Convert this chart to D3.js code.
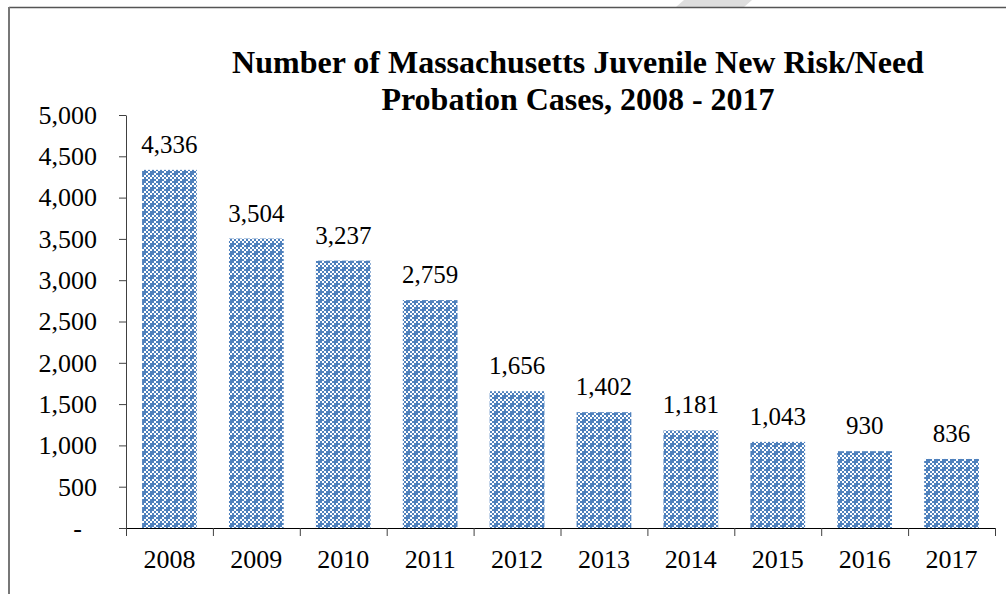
<!DOCTYPE html>
<html>
<head>
<meta charset="utf-8">
<script src="https://cdn.jsdelivr.net/npm/d3@7"></script>
<style>
  html, body { margin: 0; padding: 0; background: #fff; }
  svg { display: block; }
  text { font-family: "Liberation Serif", "Times New Roman", serif; fill: #000; }
</style>
</head>
<body>
<svg id="chart"></svg>
<script>
// data
var years = ["2008", "2009", "2010", "2011", "2012", "2013", "2014", "2015", "2016", "2017"];
var cases = [4336, 3504, 3237, 2759, 1656, 1402, 1181, 1043, 930, 836];
var yTicks = [0, 500, 1000, 1500, 2000, 2500, 3000, 3500, 4000, 4500, 5000];
var titleLines = ["Number of Massachusetts Juvenile New Risk/Need", "Probation Cases, 2008 - 2017"];

var width = 1006, height = 594;
var margin = {top: 115, right: 11, bottom: 66, left: 126};
var plot_w = width - margin.left - margin.right,
    plot_h = height - margin.top - margin.bottom;

var svg = d3.select("#chart")
    .attr("width", width)
    .attr("height", height);

// pattern fill like the excel dotted checker
var defs = svg.append("defs");
var pat = defs.append("pattern")
    .attr("id", "checker")
    .attr("patternUnits", "userSpaceOnUse")
    .attr("width", 8)
    .attr("height", 8);
pat.append("rect").attr("width", 8).attr("height", 8).attr("fill", "#fff");
[[0, 0], [4, 0], [2, 2], [6, 2], [0, 4], [4, 4], [2, 6], [6, 6]].forEach(function (p) {
    pat.append("rect").attr("x", p[0]).attr("y", p[1]).attr("width", 2).attr("height", 2).attr("fill", "#4f81bd");
});
// little crosses
pat.append("rect").attr("x", 2).attr("y", 0).attr("width", 2).attr("height", 2).attr("fill", "#4f81bd");
pat.append("rect").attr("x", 0).attr("y", 2).attr("width", 2).attr("height", 2).attr("fill", "#4f81bd");

// page frame + decoration
svg.append("polygon")
    .attr("points", "676,7 684,0 752,0 744,7")
    .attr("fill", "#dedede");
svg.append("line")
    .attr("x1", 9).attr("x2", width).attr("y1", 7.5).attr("y2", 7.5)
    .attr("stroke", "#555").attr("stroke-width", 1.5);
svg.append("line")
    .attr("x1", 9).attr("x2", 9).attr("y1", 7).attr("y2", height)
    .attr("stroke", "#777").attr("stroke-width", 2);

// title
svg.append("g").selectAll("text")
    .data(titleLines)
    .enter().append("text")
    .attr("x", 578)
    .attr("y", function (d, i) { return 73 + i * 37; })
    .attr("text-anchor", "middle")
    .style("font-size", "32px")
    .style("font-weight", "bold")
    .text(function (d) { return d; });

var g = svg.append("g")
    .attr("transform", "translate(" + margin.left + "," + margin.top + ")");

var x = d3.scaleBand().domain(years).range([0, plot_w]).paddingInner(0.37).paddingOuter(0.185);
var xEdge = d3.scaleLinear().domain([0, years.length]).range([0, plot_w]);
var y = d3.scaleLinear().domain([0, 5000]).range([plot_h, 0]);

var fmt = d3.format(",");

// bars
g.selectAll(".bar")
    .data(cases)
    .enter().append("rect")
    .attr("class", "bar")
    .attr("x", function (d, i) { return x(years[i]); })
    .attr("width", x.bandwidth())
    .attr("y", function (d) { return y(d); })
    .attr("height", function (d) { return plot_h - y(d); })
    .attr("fill", "url(#checker)");

// value labels
g.selectAll(".val")
    .data(cases)
    .enter().append("text")
    .attr("class", "val")
    .attr("x", function (d, i) { return x(years[i]) + x.bandwidth() / 2; })
    .attr("y", function (d) { return y(d) - 17; })
    .attr("text-anchor", "middle")
    .style("font-size", "25px")
    .text(function (d) { return fmt(d); });

// y axis
var yAxis = d3.axisLeft(y)
    .tickValues(yTicks)
    .tickSize(7)
    .tickSizeOuter(0)
    .tickFormat(function (d) { return d === 0 ? "-" : fmt(d); });
var yg = g.append("g").attr("class", "y axis").call(yAxis);
yg.select(".domain").attr("stroke", "#404040");
yg.selectAll(".tick line").attr("stroke", "#404040");
yg.selectAll(".tick text")
    .attr("x", function (d) { return d === 0 ? -44 : -29; })
    .style("font-size", "26px")
    .style("font-family", "'Liberation Serif', serif");

// x axis: ticks between categories
var xAxis = d3.axisBottom(xEdge)
    .tickValues(d3.range(0, years.length + 1))
    .tickSize(8)
    .tickSizeOuter(0)
    .tickFormat("");
var xg = g.append("g")
    .attr("class", "x axis")
    .attr("transform", "translate(0," + plot_h + ")")
    .call(xAxis);
xg.select(".domain").attr("stroke", "#000").attr("stroke-width", 1.2);
xg.selectAll(".tick line").attr("stroke", "#404040");

g.selectAll(".xlab")
    .data(years)
    .enter().append("text")
    .attr("class", "xlab")
    .attr("x", function (d) { return x(d) + x.bandwidth() / 2; })
    .attr("y", plot_h + 40)
    .attr("text-anchor", "middle")
    .style("font-size", "26px")
    .text(function (d) { return d; });
</script>
</body>
</html>
